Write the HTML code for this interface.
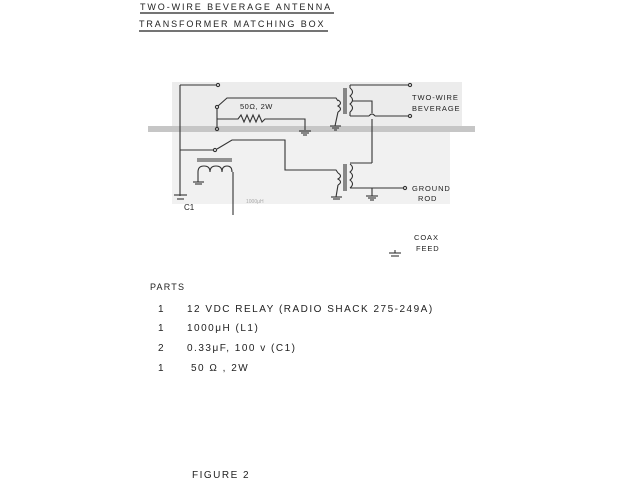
<!DOCTYPE html>
<html><head><meta charset="utf-8"><style>
html,body{margin:0;padding:0;background:#fff;}
svg{display:block}
text{font-family:"Liberation Sans",sans-serif;fill:#222;}
</style></head><body>
<svg width="640" height="480" viewBox="0 0 640 480" xmlns="http://www.w3.org/2000/svg">
<rect width="640" height="480" fill="#fff"/>
<!-- title -->
<text x="140" y="10" font-size="9" letter-spacing="1.9">TWO-WIRE  BEVERAGE  ANTENNA</text>
<line x1="140" y1="13" x2="334" y2="13" stroke="#222" stroke-width="1.2"/>
<text x="139" y="27" font-size="9" letter-spacing="1.9">TRANSFORMER  MATCHING  BOX</text>
<line x1="139" y1="31" x2="328" y2="31" stroke="#222" stroke-width="1.2"/>

<!-- photocopy background -->
<rect x="172" y="82" width="290" height="46" fill="#ececec"/>
<rect x="172" y="132" width="278" height="72" fill="#f1f1f1"/>
<rect x="148" y="126" width="327" height="6" fill="#c6c6c6"/>

<g stroke="#333" stroke-width="1.1" fill="none">
<line x1="180" y1="85" x2="180" y2="196"/>
<line x1="180" y1="85" x2="216" y2="85"/>
<circle cx="218" cy="85" r="1.6"/>
<circle cx="217" cy="107" r="1.6"/>
<polyline points="218,106 227,98 336,98 338,101"/>
<line x1="217" y1="109" x2="217" y2="128"/>
<circle cx="217" cy="129" r="1.6"/>
<polyline points="217,119 238,119 241,115 244,122 247,115 250,122 253,115 256,122 259,115 262,122 265,119 305,119 305,130"/>
<line x1="299" y1="131" x2="311" y2="131"/><line x1="301" y1="133" x2="309" y2="133"/><line x1="303" y1="135" x2="307" y2="135"/>
<path d="M338,100 q5,3 0,6 q5,3 0,6"/>
<line x1="338" y1="112" x2="335" y2="126"/>
<line x1="330" y1="126" x2="341" y2="126"/><line x1="332" y1="128" x2="339" y2="128"/><line x1="334" y1="130" x2="337" y2="130"/>
<line x1="344" y1="88" x2="344" y2="114"/><line x1="346" y1="88" x2="346" y2="114"/>
<path d="M350,88 q5,4 0,8 q5,4 0,8 q5,4 0,8"/>
<line x1="350" y1="85" x2="408" y2="85"/><line x1="350" y1="88" x2="350" y2="85"/>
<circle cx="410" cy="85" r="1.6"/>
<polyline points="352,101 372,101 372,113"/>
<line x1="350" y1="112" x2="350" y2="116"/>
<line x1="350" y1="116" x2="369" y2="116"/>
<path d="M369,116 q3,-4 6,0"/>
<line x1="375" y1="116" x2="408" y2="116"/>
<circle cx="410" cy="116" r="1.6"/>
<line x1="372" y1="119" x2="372" y2="163"/>
<line x1="180" y1="150" x2="213" y2="150"/>
<circle cx="215" cy="150" r="1.6"/>
<polyline points="217,149 232,140 285,140 285,170 336,170 338,173"/>
<path d="M338,173 q5,3 0,6 q5,3 0,6"/>
<line x1="338" y1="185" x2="336" y2="197"/>
<line x1="331" y1="197" x2="342" y2="197"/><line x1="333" y1="199" x2="340" y2="199"/>
<line x1="344" y1="164" x2="344" y2="191"/><line x1="346" y1="164" x2="346" y2="191"/>
<path d="M350,164 q5,4 0,8 q5,4 0,8 q5,4 0,8"/>
<line x1="350" y1="163" x2="372" y2="163"/>
<line x1="350" y1="188" x2="403" y2="188"/>
<circle cx="405" cy="188" r="1.6"/>
<line x1="372" y1="188" x2="372" y2="196"/>
<line x1="366" y1="196" x2="378" y2="196"/><line x1="368" y1="198" x2="376" y2="198"/><line x1="370" y1="200" x2="374" y2="200"/>
<line x1="197" y1="159" x2="232" y2="159"/><line x1="197" y1="161" x2="232" y2="161"/>
<path d="M198,172 q0,-6 6,-6 q6,0 6,6 q0,-6 6,-6 q6,0 6,6 q0,-6 5,-6 q5,0 5,6"/>
<line x1="198" y1="172" x2="198" y2="182"/>
<line x1="193" y1="182" x2="204" y2="182"/><line x1="195" y1="184" x2="202" y2="184"/>
<line x1="233" y1="172" x2="233" y2="215"/>
<line x1="174" y1="195" x2="187" y2="195"/>
<line x1="177" y1="199" x2="184" y2="199"/>
<line x1="389" y1="253" x2="401" y2="253"/><line x1="391" y1="256" x2="399" y2="256"/><line x1="395" y1="250" x2="395" y2="253"/>
</g>
<text x="184" y="210" font-size="8">C1</text>
<text x="246" y="203" font-size="5" style="fill:#aaa">1000μH</text>
<text x="240" y="109" font-size="7.5" letter-spacing="0.5">50Ω, 2W</text>
<text x="412" y="100" font-size="7.5" letter-spacing="0.9">TWO-WIRE</text>
<text x="412" y="111" font-size="7.5" letter-spacing="0.9">BEVERAGE</text>
<text x="412" y="191" font-size="7.5" letter-spacing="0.9">GROUND</text>
<text x="418" y="201" font-size="7.5" letter-spacing="0.9">ROD</text>
<text x="414" y="240" font-size="7.5" letter-spacing="0.9">COAX</text>
<text x="416" y="251" font-size="7.5" letter-spacing="0.9">FEED</text>

<text x="150" y="290" font-size="9" letter-spacing="1.2">PARTS</text>
<g font-size="10" letter-spacing="1.5">
<text x="158" y="312">1</text><text x="187" y="312">12 VDC  RELAY  (RADIO SHACK 275-249A)</text>
<text x="158" y="331">1</text><text x="187" y="331">1000μH   (L1)</text>
<text x="158" y="351">2</text><text x="187" y="351">0.33μF,  100 v   (C1)</text>
<text x="158" y="371">1</text><text x="191" y="371">50 Ω ,  2W</text>
</g>
<text x="192" y="478" font-size="10" letter-spacing="1.5">FIGURE 2</text>
</svg>
</body></html>
